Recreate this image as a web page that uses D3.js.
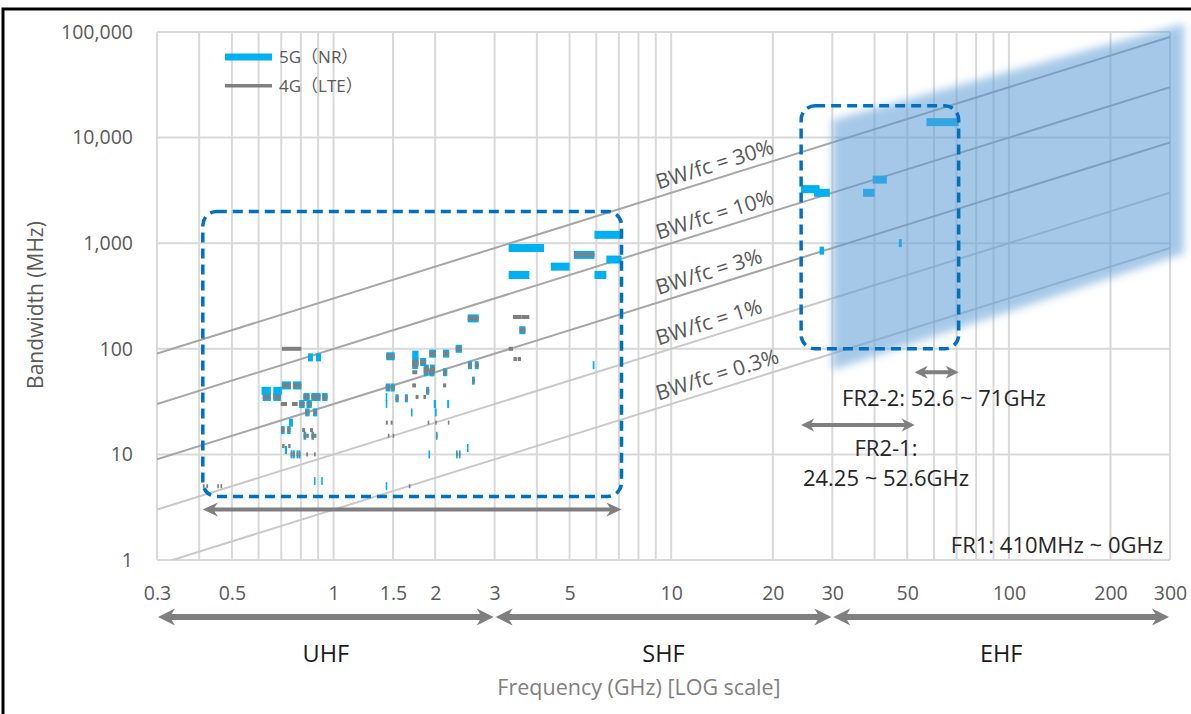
<!DOCTYPE html>
<html><head><meta charset="utf-8">
<script src="https://cdn.jsdelivr.net/npm/d3@7"></script>
<style>
body{margin:0;background:#fff}
svg{display:block}
text{font-family:"Open Sans","Noto Sans","Noto Sans CJK JP",sans-serif}
</style>
</head><body>
<svg id="c" width="1191" height="714"></svg>
<script>
// ---------- data ----------
const xTickLabels = [0.3, 0.5, 1, 1.5, 2, 3, 5, 10, 20, 30, 50, 100, 200, 300];
const xGridValues = [0.3,0.4,0.5,0.6,0.7,0.8,0.9,1,1.5,2,3,4,5,6,7,8,9,10,20,30,40,50,60,70,80,90,100,200,300];
const yTickValues = [1, 10, 100, 1000, 10000, 100000];
const ratioValues = [0.3, 0.1, 0.03, 0.01, 0.003];
const ratioLabels = ["BW/fc = 30%", "BW/fc = 10%", "BW/fc = 3%", "BW/fc = 1%", "BW/fc = 0.3%"];
const ratioLabelFc = 9.3;

// 5G NR bands: [f_low GHz, f_high GHz, bandwidth MHz]
const nrBands = [
  [0.612,0.652,40],[0.663,0.703,40],
  [0.617,0.652,35],[0.663,0.698,35],
  [0.703,0.748,45],[0.758,0.803,45],
  [0.840,0.869,83],[0.887,0.918,83],
  [0.814,0.849,35],[0.859,0.894,35],
  [0.880,0.915,35],[0.925,0.960,35],
  [0.791,0.821,30],[0.832,0.862,30],
  [0.824,0.849,25],[0.869,0.894,25],
  [0.738,0.758,20],
  [0.699,0.716,17],[0.729,0.746,17],
  [0.815,0.830,15],[0.860,0.875,15],
  [0.717,0.728,11],
  [0.746,0.756,10],[0.777,0.787,10],
  [0.758,0.768,10],[0.788,0.798,10],
  [0.8744,0.880,5.6],[0.9194,0.925,5.6],
  [1.427,1.470,43],[1.475,1.518,43],
  [1.432,1.517,85],
  [1.427,1.432,5],
  [1.427,1.432,30],[1.427,1.432,35],
  [1.525,1.559,34],[1.6265,1.6605,34],
  [1.695,1.710,25],
  [1.710,1.785,88],
  [1.710,1.785,75],[1.805,1.880,75],
  [1.710,1.780,70],
  [1.850,1.910,60],[1.930,1.990,60],
  [1.850,1.915,65],[1.930,1.995,65],
  [1.920,1.980,60],[2.110,2.170,60],
  [1.920,2.010,90],[2.110,2.200,90],
  [1.880,1.920,40],
  [2.010,2.025,15],
  [1.995,2.020,25],
  [1.980,2.010,30],[2.170,2.200,30],
  [1.910,1.920,10],
  [2.300,2.400,100],
  [2.305,2.315,10],[2.350,2.360,10],
  [2.4835,2.495,11.5],
  [2.500,2.570,70],[2.620,2.690,70],
  [2.570,2.620,50],
  [2.496,2.690,194],
  [3.55,3.70,150],
  [3.3,3.8,500],
  [3.3,4.2,900],
  [4.4,5.0,600],
  [5.15,5.925,775],
  [5.855,5.925,70],
  [5.925,7.125,1200],
  [5.925,6.425,500],
  [6.425,7.125,700],
  [24.25,27.5,3250],[26.5,29.5,3000],[27.5,28.35,850],
  [37,40,3000],[39.5,43.5,4000],[47.2,48.2,1000],[57,71,14000]
];

// 4G LTE bands: [f_low GHz, f_high GHz, bandwidth MHz]
const lteBands = [
  [0.703,0.803,100],
  [0.617,0.652,35],[0.663,0.698,35],
  [0.703,0.748,45],[0.758,0.803,45],
  [0.698,0.728,30],[0.753,0.783,30],
  [0.814,0.849,35],[0.859,0.894,35],
  [0.880,0.915,35],[0.925,0.960,35],
  [0.791,0.821,30],[0.832,0.862,30],
  [0.824,0.849,25],[0.869,0.894,25],
  [0.699,0.716,17],[0.729,0.746,17],
  [0.704,0.716,12],[0.734,0.746,12],
  [0.807,0.824,17],[0.852,0.869,17],
  [0.815,0.830,15],[0.860,0.875,15],
  [0.830,0.845,15],[0.875,0.890,15],
  [0.777,0.787,10],[0.746,0.756,10],
  [0.788,0.798,10],[0.758,0.768,10],
  [0.830,0.840,10],[0.875,0.885,10],
  [0.4525,0.4575,5],[0.4625,0.4675,5],
  [0.410,0.415,5],[0.420,0.425,5],
  [1.4279,1.4479,20],[1.4759,1.4959,20],
  [1.4479,1.4629,15],[1.4959,1.5109,15],
  [1.427,1.470,43],[1.475,1.518,43],
  [1.432,1.517,85],
  [1.6265,1.6605,34],[1.525,1.559,34],
  [1.670,1.675,5],
  [1.710,1.785,75],[1.805,1.880,75],
  [1.710,1.780,70],[2.110,2.200,90],
  [1.710,1.755,45],[2.110,2.155,45],
  [1.710,1.770,60],[2.110,2.170,60],
  [1.7499,1.7849,35],[1.8449,1.8799,35],
  [1.850,1.910,60],[1.930,1.990,60],
  [1.850,1.915,65],[1.930,1.995,65],
  [1.920,1.980,60],
  [1.920,2.010,90],
  [1.900,1.920,20],
  [2.000,2.020,20],[2.180,2.200,20],
  [1.880,1.920,40],
  [2.010,2.025,15],
  [2.300,2.400,100],
  [2.305,2.315,10],[2.350,2.360,10],
  [2.500,2.570,70],[2.620,2.690,70],
  [2.570,2.620,50],
  [2.496,2.690,194],
  [3.3,3.4,100],
  [3.41,3.49,80],[3.51,3.59,80],
  [3.4,3.6,200],[3.6,3.8,200],
  [3.55,3.7,150],
  [5.15,5.925,775]
];

// shaded FR2 region corners: [GHz, MHz]
const fr2Shade = [[30,14700],[330,120000],[330,800],[30,63]];
// highlighted ranges: [f_low, f_high, bw_top, bw_bottom]
const frBoxes = [[0.41,7.125,2000,4],[24.25,71,20000,100]];
// range arrows: [f_low, f_high, bw position]
const frArrows = [[0.41,7.125,3],[24.25,52.6,19],[52.6,71,60]];
const bandNames = ["UHF","SHF","EHF"];
const bandRanges = [[0.3,3],[3,30],[30,300]];
const legendNames = ["5G（NR）","4G（LTE）"];

// ---------- chart ----------
const svg = d3.select("#c");
const x = d3.scaleLog().domain([0.3,300]).range([157,1170]);
const y = d3.scaleLog().domain([1,100000]).range([560,32]);
const [X0,X1] = x.range(), [Y0,Y1] = y.range();

// outer frame
svg.append("rect").attr("x",3).attr("y",9).attr("width",1200).attr("height",720)
  .attr("fill","none").attr("stroke","#000").attr("stroke-width",3);

const defs = svg.append("defs");
defs.append("clipPath").attr("id","plot").append("rect")
  .attr("x",X0).attr("y",Y1).attr("width",X1-X0).attr("height",Y0-Y1);
defs.append("filter").attr("id","blur").attr("filterUnits","userSpaceOnUse")
  .attr("x",700).attr("y",0).attr("width",600).attr("height",500)
  .append("feGaussianBlur").attr("stdDeviation",4);

// gridlines
const grid = svg.append("g");
grid.selectAll("line.v").data(xGridValues).join("line")
  .attr("x1",d=>x(d)).attr("x2",d=>x(d)).attr("y1",Y1).attr("y2",Y0)
  .attr("stroke","#d9d9d9").attr("stroke-width",2);
grid.selectAll("line.h").data(yTickValues).join("line")
  .attr("x1",X0).attr("x2",X1).attr("y1",d=>y(d)).attr("y2",d=>y(d))
  .attr("stroke","#d9d9d9").attr("stroke-width",2);

// axes labels via d3 axes (domain/ticks hidden)
const yAxis = svg.append("g").attr("transform",`translate(${X0},0)`)
  .call(d3.axisLeft(y).tickValues(yTickValues).tickFormat(d3.format(",")).tickSize(0).tickPadding(24));
yAxis.select(".domain").remove();
yAxis.selectAll("text").attr("fill","#595959").attr("font-size",19.5)
  .style("font-family",'"Open Sans",sans-serif');

const xAxis = svg.append("g").attr("transform",`translate(0,${Y0})`)
  .call(d3.axisBottom(x).tickValues(xTickLabels).tickFormat(d=>String(d)).tickSize(0).tickPadding(26));
xAxis.select(".domain").remove();
xAxis.selectAll("text").attr("fill","#595959").attr("font-size",19.5)
  .style("font-family",'"Open Sans",sans-serif');

// BW/fc ratio lines
const ratioG = svg.append("g").attr("clip-path","url(#plot)");
const fcs = [0.3,300];
ratioG.selectAll("line").data(ratioValues).join("line")
  .attr("x1",x(fcs[0])).attr("x2",x(fcs[1]))
  .attr("y1",r=>y(r*fcs[0]*1000)).attr("y2",r=>y(r*fcs[1]*1000))
  .attr("stroke",(r,i)=> i<3 ? "#a6a6a6" : "#c9c9c9").attr("stroke-width",2);

const angle = Math.atan2(y(1000)-y(100), x(3)-x(0.3))*180/Math.PI;
svg.append("g").selectAll("text").data(ratioValues).join("text")
  .attr("transform",r=>`translate(${x(ratioLabelFc)},${y(r*ratioLabelFc*1000)}) rotate(${angle})`)
  .attr("y",-7).attr("fill","#595959").attr("font-size",21)
  .text((r,i)=>ratioLabels[i]);

// bars
function drawBars(data, color, h) {
  svg.append("g").selectAll("rect").data(data).join("rect")
    .attr("x",d=>x(d[0]))
    .attr("width",d=>Math.max(x(d[1])-x(d[0]),1.6))
    .attr("y",d=>y(d[2])-h/2)
    .attr("height",h)
    .attr("fill",color);
}
drawBars(nrBands,"#00b0f0",8);
drawBars(lteBands,"#7f7f7f",4);

// FR2 shade
svg.append("path")
  .attr("d", d3.line().x(d=>x(d[0])).y(d=>y(d[1]))(fr2Shade)+"Z")
  .attr("fill","#5b9bd5").attr("fill-opacity",0.55).attr("filter","url(#blur)");

// dashed boxes
svg.append("g").selectAll("rect").data(frBoxes).join("rect")
  .attr("x",d=>x(d[0])).attr("y",d=>y(d[2]))
  .attr("width",d=>x(d[1])-x(d[0])).attr("height",d=>y(d[3])-y(d[2]))
  .attr("rx",14).attr("ry",14)
  .attr("fill","none").attr("stroke","#0070c0").attr("stroke-width",3.5)
  .attr("stroke-dasharray","10 6");

// arrows
function dblArrow(g, x1, x2, yy, w, hl, hw) {
  const c = "#7f7f7f";
  g.append("line").attr("x1",x1+hl*0.6).attr("x2",x2-hl*0.6).attr("y1",yy).attr("y2",yy)
    .attr("stroke",c).attr("stroke-width",w);
  g.append("path").attr("fill",c)
    .attr("d",`M${x1},${yy} L${x1+hl},${yy-hw} L${x1+hl*0.7},${yy} L${x1+hl},${yy+hw} Z`);
  g.append("path").attr("fill",c)
    .attr("d",`M${x2},${yy} L${x2-hl},${yy-hw} L${x2-hl*0.7},${yy} L${x2-hl},${yy+hw} Z`);
}
const arrG = svg.append("g");
frArrows.forEach((a,i)=> dblArrow(arrG, x(a[0]), x(a[1]), y(a[2]), 4, i===0?15:13, i===0?7:6.5));
bandRanges.forEach(b=> dblArrow(arrG, x(b[0])+1, x(b[1])-1, Y0+57, 6, 17, 8.5));

// band names
svg.append("g").selectAll("text").data(bandRanges).join("text")
  .attr("x",b=>(x(b[0])+x(b[1]))/2).attr("y",Y0+102)
  .attr("text-anchor","middle").attr("fill","#1a1a1a").attr("font-size",23.5)
  .text((b,i)=>bandNames[i]);

// axis titles
svg.append("text").attr("x",639).attr("y",Y0+135).attr("text-anchor","middle")
  .attr("fill","#7f7f7f").attr("font-size",21.5).text("Frequency (GHz) [LOG scale]");
svg.append("text").attr("transform",`translate(43,305) rotate(-90)`)
  .attr("text-anchor","middle").attr("fill","#595959").attr("font-size",21).text("Bandwidth (MHz)");

// FR annotations
const ann = svg.append("g").attr("fill","#262626").attr("font-size",22);
ann.append("text").attr("x",944).attr("y",406).attr("text-anchor","middle").text("FR2-2: 52.6 ~ 71GHz");
ann.append("text").attr("x",886).attr("y",456).attr("text-anchor","middle").text("FR2-1:");
ann.append("text").attr("x",886).attr("y",486).attr("text-anchor","middle").text("24.25 ~ 52.6GHz");
ann.append("text").attr("x",1163).attr("y",553).attr("text-anchor","end").text("FR1: 410MHz ~ 0GHz");

// legend
const leg = svg.append("g");
leg.append("rect").attr("x",225).attr("y",53.5).attr("width",47).attr("height",7).attr("fill","#00b0f0");
leg.append("rect").attr("x",225).attr("y",84).attr("width",47).attr("height",3.5).attr("fill","#7f7f7f");
leg.selectAll("text").data(legendNames).join("text")
  .attr("x",279).attr("y",(d,i)=>57+i*29).attr("dy","0.35em")
  .attr("fill","#595959").attr("font-size",17).text(d=>d);
</script>
</body></html>
